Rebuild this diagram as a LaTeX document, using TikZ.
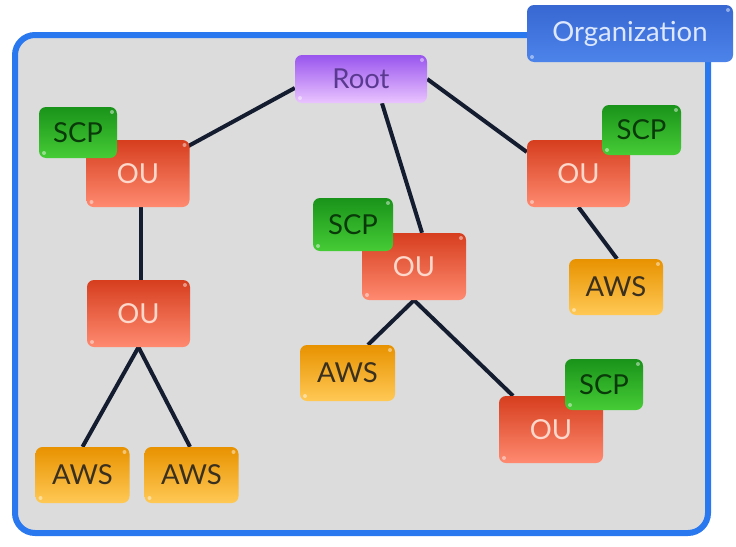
\documentclass[tikz,border=0pt]{standalone}
\usepackage{fontspec}
\setmainfont{Lato}
\usetikzlibrary{calc}
\pgfdeclarelayer{back}
\pgfdeclarelayer{bg}
\pgfsetlayers{back,bg,main}
\definecolor{frameblue}{HTML}{2A78F0}
\definecolor{panelgray}{HTML}{DCDCDC}
\definecolor{linecol}{HTML}{141C30}
\definecolor{outop}{HTML}{D63E1E}
\definecolor{oubot}{HTML}{FF8A70}
\definecolor{outxt}{HTML}{FFD8CC}
\definecolor{scptop}{HTML}{1A931A}
\definecolor{scpbot}{HTML}{46CC36}
\definecolor{scptxt}{HTML}{0A3A0A}
\definecolor{awstop}{HTML}{E89200}
\definecolor{awsbot}{HTML}{FFC955}
\definecolor{awstxt}{HTML}{3A3020}
\definecolor{roottop}{HTML}{9955EE}
\definecolor{rootbot}{HTML}{EAC4FF}
\definecolor{roottxt}{HTML}{5A3A90}
\definecolor{orgtop}{HTML}{3867D2}
\definecolor{orgbot}{HTML}{4C84EA}
\definecolor{orgtxt}{HTML}{DDE8FF}
\tikzset{
  box/.style={rounded corners=7pt, inner sep=0pt, font=\fontsize{27.5}{30}\selectfont,
    path picture={
      \fill[white,opacity=0.45] ([xshift=-5pt,yshift=-5pt]path picture bounding box.north east) circle (2pt);
      \fill[white,opacity=0.45] ([xshift=5pt,yshift=5pt]path picture bounding box.south west) circle (2pt);
    }},
  oubox/.style={box, top color=outop, bottom color=oubot, text=outxt, minimum width=103pt, minimum height=67pt},
  scpbox/.style={box, top color=scptop, bottom color=scpbot, text=scptxt, minimum width=79pt, minimum height=51pt},
  awsbox/.style={box, top color=awstop, bottom color=awsbot, text=awstxt, minimum width=94pt, minimum height=56pt},
  rootbox/.style={box, top color=roottop, bottom color=rootbot, text=roottxt, minimum width=132pt, minimum height=48pt},
  orgbox/.style={box, top color=orgtop, bottom color=orgbot, text=orgtxt, minimum width=206pt, minimum height=57pt},
  conn/.style={draw=linecol, line width=4pt},
}
\begin{document}
\begin{tikzpicture}[x=1pt,y=-1pt]
\useasboundingbox (0,0) rectangle (736,546);
\begin{pgfonlayer}{back}
\draw[frameblue, line width=6pt, fill=panelgray, rounded corners=20pt] (15,35) rectangle (708,533);
\end{pgfonlayer}
% nodes
\node[rootbox] (root) at (361,79) {Root};
\node[oubox] (ouL) at (138,173.5) {OU};
\node[oubox] (ouL2) at (138.5,313.5) {OU};
\node[awsbox] (awsL1) at (82.5,475) {AWS};
\node[awsbox] (awsL2) at (191.5,475) {AWS};
\node[oubox, minimum width=104pt] (ouM) at (414,266.5) {OU};
\node[awsbox, minimum width=95pt] (awsM) at (347.5,373) {AWS};
\node[oubox] (ouR) at (578.5,173.5) {OU};
\node[awsbox] (awsR) at (616,287) {AWS};
\node[oubox, minimum width=104pt] (ouB) at (551,429.5) {OU};
\node[scpbox, minimum width=78pt] (scpL) at (78,132.5) {SCP};
\node[scpbox, minimum width=80pt, minimum height=53pt] (scpM) at (353,224.5) {SCP};
\node[scpbox, minimum height=50pt] (scpR) at (641.5,130) {SCP};
\node[scpbox, minimum width=78pt] (scpB) at (604,384.5) {SCP};
\node[orgbox] (org) at (630,33.5) {Organization};
% connectors
\begin{pgfonlayer}{bg}
\path[conn] ([yshift=-9pt]root.west) -- (ouL.center);
\path[conn] ([xshift=21pt]root.south) -- ([xshift=8pt]ouM.north);
\path[conn] (root.east) -- ([yshift=21.5pt]ouR.west);
\path[conn] ([xshift=3pt]ouL.south) -- ([xshift=2.5pt]ouL2.north);
\path[conn] (ouL2.south) -- (awsL1.north);
\path[conn] (ouL2.south) -- ([xshift=-1.5pt]awsL2.north);
\path[conn] (ouM.south) -- ([xshift=20.5pt]awsM.north);
\path[conn] (ouM.south) -- ([xshift=-38pt]ouB.north);
\path[conn] (ouR.south) -- ([xshift=1pt]awsR.north);
\end{pgfonlayer}
\end{tikzpicture}
\end{document}
